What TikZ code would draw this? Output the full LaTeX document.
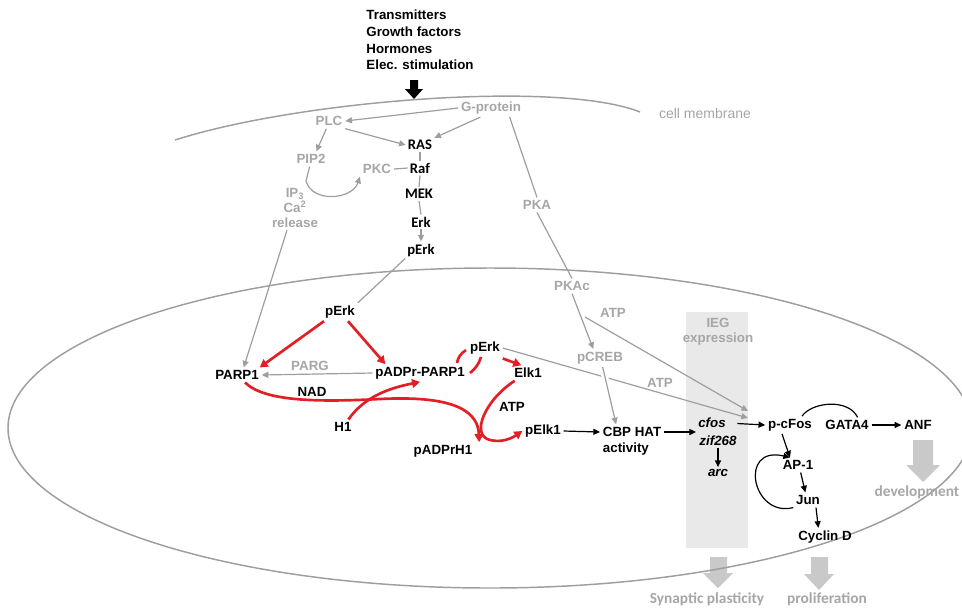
\documentclass[tikz,border=0pt]{standalone}
\usepackage{fontspec}
\setmainfont{Liberation Sans}
\newfontfamily\calib{Carlito}
\usetikzlibrary{arrows.meta}
\definecolor{gtxt}{HTML}{A6A6A6}
\definecolor{gln}{HTML}{9E9E9E}
\definecolor{rd}{HTML}{E31E24}
\definecolor{boxg}{HTML}{E9E9E9}
\definecolor{blkg}{HTML}{C9C9C9}
\begin{document}
\begin{tikzpicture}[x=0.75pt,y=-0.75pt,
 lbl/.style={font=\bfseries\fontsize{10}{12}\selectfont, inner sep=2pt},
 glbl/.style={lbl,text=gtxt},
 clbl/.style={font=\calib\bfseries\fontsize{11}{13}\selectfont, inner sep=1.5pt},
 olbl/.style={font=\calib\bfseries\fontsize{11.5}{13}\selectfont, text=gtxt, inner sep=1pt},
 ilbl/.style={font=\bfseries\itshape\fontsize{10}{12}\selectfont, inner sep=1.5pt},
 garr/.style={draw=gln, line width=0.9pt, -{Triangle[length=5pt,width=4.5pt]}},
 gline/.style={draw=gln, line width=0.9pt},
 barr/.style={draw=black, line width=0.9pt, -{Triangle[length=5pt,width=4.5pt]}},
 bline/.style={draw=black, line width=0.9pt},
 rarr/.style={draw=rd, line width=2pt, -{Triangle[length=6pt,width=6.5pt]}},
 rline/.style={draw=rd, line width=2pt},
 memb/.style={draw=gln, line width=1.1pt},
]
\useasboundingbox (0,0) rectangle (962,608);
% background shapes
\fill[boxg] (686,312) rectangle (748,548);
\fill[black] (410,80) -- (418,80) -- (418,89) -- (423,89) -- (414,99) -- (405,89) -- (410,89) -- cycle;
\fill[blkg] (710,557) -- (727,557) -- (727,573) -- (733,573) -- (718,588) -- (703,573) -- (710,573) -- cycle;
\fill[blkg] (811,557) -- (828,557) -- (828,574) -- (834,574) -- (819,590) -- (804,574) -- (811,574) -- cycle;
\fill[blkg] (913,440) -- (933,440) -- (933,465) -- (940,465) -- (923,482) -- (906,465) -- (913,465) -- cycle;
% membranes
\draw[memb] (175,140) .. controls (300,100) and (560,80) .. (640,112);
\draw[memb] (490,428) ellipse [x radius=482, y radius=160];

% nodes
\node[lbl, align=left, font=\bfseries\fontsize{10}{12.4}\selectfont] (stim) at (420,40) {Transmitters\\Growth factors\\Hormones\\Elec. stimulation};
\node[font=\fontsize{10.5}{12}\selectfont, text=gtxt, inner sep=1pt] (cm) at (705,113) {cell membrane};
\node[glbl] (gp) at (491,108) {G-protein};
\node[glbl] (plc) at (329,121) {PLC};
\node[clbl] (ras) at (420,145) {RAS};
\node[clbl] (raf) at (420,168) {Raf};
\node[glbl] (pkc) at (377,169) {PKC};
\node[glbl] (pip2) at (311,159) {PIP2};
\node[glbl, align=center, font=\bfseries\fontsize{10}{11}\selectfont] (rel) at (295,208) {IP\textsubscript{3}\\Ca\textsuperscript{2}\\release};
\node[clbl] (mek) at (419,194) {MEK};
\node[clbl] (erk) at (421,222) {Erk};
\node[clbl] (perk1) at (421,250) {pErk};
\node[glbl] (pka) at (537,205) {PKA};
\node[glbl] (pkac) at (572,286) {PKAc};
\node[glbl] (atp1) at (613,313) {ATP};
\node[glbl] (pcreb) at (600,358) {pCREB};
\node[glbl] (atp2) at (660,383) {ATP};
\node[glbl, align=center, font=\bfseries\fontsize{10}{11.3}\selectfont] (ieg) at (718,332) {IEG\\expression};
\node[ilbl] (cfos) at (712,423) {cfos};
\node[ilbl] (zif) at (718,441) {zif268};
\node[ilbl] (arc) at (718,473) {arc};
\node[lbl] (pcfos) at (790,425) {p-cFos};
\node[lbl] (gata) at (847,425) {GATA4};
\node[lbl] (anf) at (918,425) {ANF};
\node[lbl] (ap1) at (798,465) {AP-1};
\node[lbl] (jun) at (808,500) {Jun};
\node[lbl] (cyc) at (825,537) {Cyclin D};
\node[olbl] (dev) at (917,492) {development};
\node[lbl, anchor=west] (cbp) at (600,432) {CBP HAT};
\node[lbl, anchor=west] (act) at (600,449) {activity};
\node[lbl] (pelk1) at (543,431) {pElk1};
\node[lbl] (elk1) at (528,373) {Elk1};
\node[lbl] (perk3) at (485,348) {pErk};
\node[lbl] (padpr) at (420,373) {pADPr-PARP1};
\node[lbl] (parp1) at (237,375) {PARP1};
\node[glbl] (parg) at (310,366) {PARG};
\node[lbl] (perk2) at (340,312) {pErk};
\node[lbl] (nad) at (312,392) {NAD};
\node[lbl] (h1) at (343,427) {H1};
\node[lbl] (padprh1) at (443,451) {pADPrH1};
\node[lbl] (atp3) at (512,407) {ATP};
\node[olbl] (syn) at (707,599) {Synaptic plasticity};
\node[olbl] (prol) at (827,599) {proliferation};

% coordinates
\coordinate (ipb) at (306,181);
\coordinate (br1) at (585,317);
\coordinate (t1) at (748,411);
\coordinate (t2) at (748,418);

% gray cytoplasm connectors
\draw[garr] (gp.west) -- (plc.east);
\draw[garr] (plc.south east) -- (ras.west);
\draw[garr] ([xshift=-8pt]gp.south) -- (ras.north east);
\draw[garr] ([xshift=-2pt]plc.south) -- ([xshift=4pt]pip2.north);
\draw[gline] (ras.south) -- (raf.north);
\draw[gline] (raf.south) -- (mek.north);
\draw[gline] (mek.south) -- (erk.north);
\draw[gline] (pkc.east) -- (raf.west);
\draw[garr] (erk.south) -- (perk1.north);
\draw[gline] ([xshift=-1pt]pip2.south) -- (ipb);
\draw[garr] (ipb) .. controls (312,203) and (352,200) .. (pkc.south west);
\draw[garr] ([xshift=-6pt]rel.south) -- ([xshift=5pt]parp1.north);
\draw[gline] (perk1.south west) -- (perk2.north east);
\draw[gline] ([xshift=14pt]gp.south) -- (pka.north);
\draw[gline] (pka.south) -- (pkac.north);
\draw[garr] (pkac.south) -- ([xshift=-5pt]pcreb.north);
\draw[garr] (br1) -- (t1);
\draw[garr] (perk3.east) -- (t2);
\draw[garr, preaction={draw=white, line width=5pt, arrows=-}] ([xshift=2pt]pcreb.south) -- ([xshift=-12pt]cbp.north);

% black connectors
\draw[barr] (pelk1.east) -- (cbp.west);
\draw[barr] (cbp.east) -- (cbp.east -| cfos.west);
\draw[barr, shorten <=7pt] (cfos.east) -- (pcfos.west);
\draw[barr] (zif.south) -- (arc.north);
\draw[barr] (gata.east) -- (anf.west);
\draw[bline] ([xshift=9pt]pcfos.north) .. controls (812,402) and (848,398) .. ([xshift=8pt]gata.north);
\draw[barr] ([xshift=-6pt]pcfos.south) -- ([xshift=-6pt]ap1.north);
\draw[barr] ([xshift=2pt]ap1.south) -- ([xshift=-2pt]jun.north);
\draw[barr] ([xshift=6pt]jun.south) -- ([xshift=-5pt]cyc.north);
\draw[barr] (jun.south west) .. controls (752,518) and (738,445) .. ([xshift=-6pt]ap1.north);

% red connectors
\draw[rarr] ([xshift=-12pt]perk2.south) -- ([xshift=17pt]parp1.north);
\draw[rarr] ([xshift=6pt]perk2.south) -- ([xshift=-26pt]padpr.north);
\draw[garr] (padpr.west) -- (parp1.east);
\draw[rarr] ([xshift=6pt]parp1.south) .. controls (265,402) and (320,402) .. (380,399) .. controls (440,396) and (478,405) .. ([xshift=3pt]padprh1.north east);
\draw[rarr] ([xshift=4pt]h1.north) .. controls (365,396) and (390,388) .. (padpr.south);
\draw[rarr] ([yshift=-1pt]perk3.south east) -- ([xshift=-5pt]elk1.north);
\draw[rarr] ([xshift=-10pt]elk1.south) .. controls (485,400) and (470,435) .. (490,440) .. controls (502,443) and (512,438) .. (pelk1.west);
\draw[rline] (466,350) .. controls (460,354) and (458,358) .. (457,363);
\draw[rline] (481,357) .. controls (479,364) and (475,369) .. (470,373);
\end{tikzpicture}
\end{document}
